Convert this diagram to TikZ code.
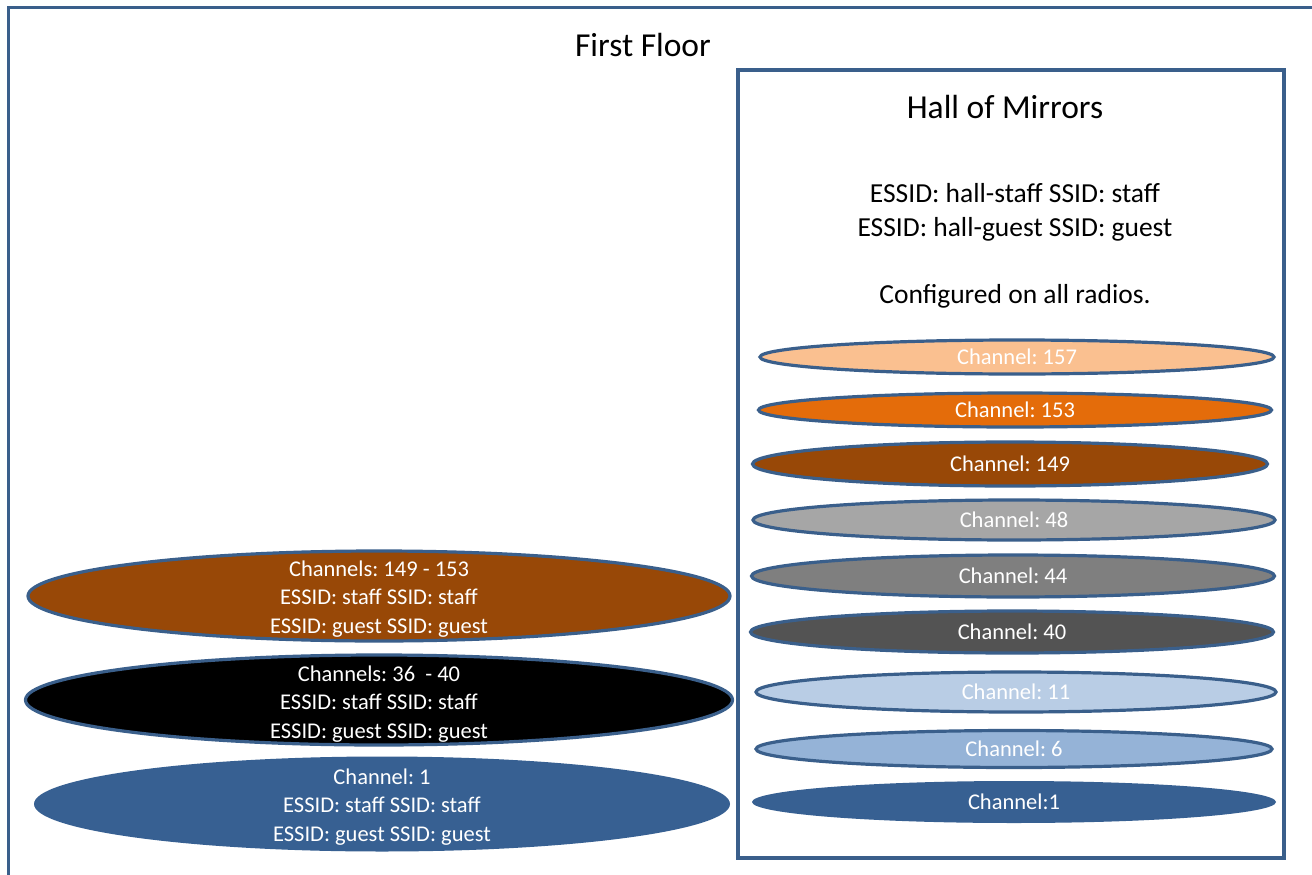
\documentclass[tikz,border=0pt]{standalone}
\usepackage{fontspec}
\setmainfont{Carlito}
\usetikzlibrary{shapes.geometric}

\definecolor{rim}{HTML}{3A5F8B}
\definecolor{navy}{HTML}{376092}
\definecolor{skyA}{HTML}{B9CDE5}
\definecolor{skyB}{HTML}{95B3D7}
\definecolor{greyA}{HTML}{535353}
\definecolor{greyB}{HTML}{7F7F7F}
\definecolor{greyC}{HTML}{A6A6A6}
\definecolor{rust}{HTML}{984807}
\definecolor{amber}{HTML}{E46C0A}
\definecolor{peach}{HTML}{FAC090}

\begin{document}
\frenchspacing
\begin{tikzpicture}[x=1pt,y=-1pt,
  frame/.style={draw=rim, line width=3.6pt},
  disc/.style={ellipse, draw=rim, line width=3.2pt, inner sep=0pt},
  flatdisc/.style={ellipse, draw=none, inner sep=0pt},
  chtext/.style={text=white, align=center, inner sep=0pt,
    font=\fontsize{22.5}{28.5}\selectfont},
  heading/.style={inner sep=0pt, font=\fontsize{33.5}{40}\selectfont},
  bodytext/.style={inner sep=0pt, align=center, font=\fontsize{27.5}{34}\selectfont}]

\useasboundingbox (0,0) rectangle (1312,875);
\fill[white] (0,0) rectangle (1312,875);

% floor outline and the hall enclosure
\draw[frame] (8.5,7.5) rectangle (1340,900);
\draw[frame] (738,70) rectangle (1284,858);

\node[heading] (floor) at (643,45) {First Floor};
\node[heading] (hall) at (1005,107) {Hall of Mirrors};
\node[bodytext] (ids) at (1015,212.5) {ESSID: hall-staff SSID: staff\\ESSID: hall-guest SSID: guest};
\node[bodytext] (note) at (1015,296) {Configured on all radios.};

% radios in the hall
\node[disc, fill=peach, minimum width=514pt, minimum height=34pt] (c157) at (1017,357) {};
\node[chtext] at (c157.center) {Channel: 157};
\node[disc, fill=amber, minimum width=513pt, minimum height=34pt] (c153) at (1015,410) {};
\node[chtext] at (c153.center) {Channel: 153};
\node[disc, fill=rust, minimum width=515pt, minimum height=44pt] (c149) at (1010,464) {};
\node[chtext] at (c149.center) {Channel: 149};
\node[disc, fill=greyC, minimum width=522pt, minimum height=40pt] (c48) at (1014,520) {};
\node[chtext] at (c48.center) {Channel: 48};
\node[disc, fill=greyB, minimum width=523pt, minimum height=42pt] (c44) at (1013,576) {};
\node[chtext] at (c44.center) {Channel: 44};
\node[disc, fill=greyA, minimum width=523pt, minimum height=42pt] (c40) at (1012,632) {};
\node[chtext] at (c40.center) {Channel: 40};
\node[disc, fill=skyA, minimum width=520pt, minimum height=40pt] (c11) at (1016,692) {};
\node[chtext] at (c11.center) {Channel: 11};
\node[disc, fill=skyB, minimum width=516pt, minimum height=37pt] (c6) at (1014,749) {};
\node[chtext] at (c6.center) {Channel: 6};
\node[flatdisc, fill=navy, minimum width=524pt, minimum height=42pt] (c1) at (1014,802) {};
\node[chtext] at (c1.center) {Channel:1};

% radios elsewhere on the floor
\node[disc, fill=rust, minimum width=702pt, minimum height=90pt] (fa) at (379,596) {};
\node[chtext] at (379,599) {Channels: 149 - 153\\ESSID: staff SSID: staff\\ESSID: guest SSID: guest};
\node[disc, fill=black, minimum width=707pt, minimum height=90pt] (fb) at (379,700) {};
\node[chtext] at (379,704) {Channels: 36\ \ - 40\\ESSID: staff SSID: staff\\ESSID: guest SSID: guest};
\node[flatdisc, fill=navy, minimum width=696pt, minimum height=95pt] (fc) at (382,804) {};
\node[chtext] at (382,807) {Channel: 1\\ESSID: staff SSID: staff\\ESSID: guest SSID: guest};

\end{tikzpicture}
\end{document}
